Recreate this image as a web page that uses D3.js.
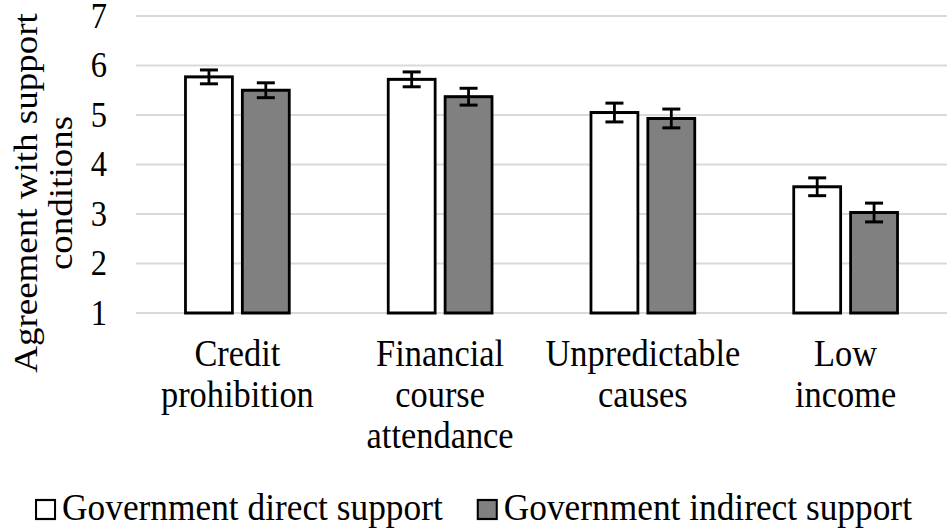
<!DOCTYPE html>
<html lang="en">
<head>
    <meta charset="UTF-8">
    <title>Agreement with support conditions</title>
    <script src="https://d3js.org/d3.v7.min.js"></script>
    <style>
        body {
            margin: 0;
            background: #fff;
        }
    </style>
</head>
<body>
    <div id="chart"></div>

    <script>
        // data
        const categories = [
            ["Credit", "prohibition"],
            ["Financial", "course", "attendance"],
            ["Unpredictable", "causes"],
            ["Low", "income"]
        ];
        const seriesNames = ["Government direct support", "Government indirect support"];
        const directValues = [5.77, 5.72, 5.05, 3.55];
        const directErrors = [0.14, 0.15, 0.19, 0.18];
        const indirectValues = [5.50, 5.37, 4.93, 3.03];
        const indirectErrors = [0.15, 0.17, 0.19, 0.19];
        const yTicks = [1, 2, 3, 4, 5, 6, 7];

        const width = 952;
        const height = 532;
        const fontFamily = "'Liberation Serif', 'DejaVu Serif', serif";
        // the original figure is squeezed sideways, so draw wide and squeeze
        const squeeze = 0.93;
        const innerWidth = width / squeeze;

        const plot = { left: 136 / squeeze, right: 947 / squeeze, top: 16, bottom: 313 };
        const fills = ["#ffffff", "#808080"];

        const svg = d3.select("#chart")
            .append("svg")
            .attr("width", width)
            .attr("height", height);

        const g = svg.append("g")
            .attr("font-family", fontFamily)
            .attr("fill", "#000")
            .attr("transform", `scale(${squeeze},1)`);

        const y = d3.scaleLinear()
            .domain([1, 7])
            .range([plot.bottom, plot.top]);

        const x0 = d3.scaleBand()
            .domain(d3.range(categories.length))
            .range([plot.left, plot.right])
            .padding(0);

        const x1 = d3.scaleBand()
            .domain(d3.range(seriesNames.length))
            .range([0, x0.bandwidth()])
            .paddingInner(0.175)
            .paddingOuter(0.87);

        // gridlines
        g.append("g")
            .selectAll("line")
            .data(yTicks)
            .join("line")
            .attr("x1", plot.left)
            .attr("x2", plot.right)
            .attr("y1", d => y(d))
            .attr("y2", d => y(d))
            .attr("stroke", "#d9d9d9")
            .attr("stroke-width", 2.2);

        // y tick labels
        g.append("g")
            .selectAll("text")
            .data(yTicks)
            .join("text")
            .attr("x", 107 / squeeze)
            .attr("y", d => y(d))
            .attr("dy", "0.34em")
            .attr("text-anchor", "end")
            .attr("font-size", 35)
            .text(d => d);

        // y axis title, two lines
        const title = g.append("text")
            .attr("transform", `translate(${37 / squeeze},193) rotate(-90)`)
            .attr("text-anchor", "middle")
            .attr("font-size", 37);
        title.append("tspan").attr("x", 0).attr("y", 0).text("Agreement with support");
        title.append("tspan").attr("x", 0).attr("y", 35 / squeeze).text("conditions");

        // bars
        const rows = categories.map((c, i) => [
            { cat: i, s: 0, v: directValues[i], e: directErrors[i] },
            { cat: i, s: 1, v: indirectValues[i], e: indirectErrors[i] }
        ]);

        const groups = g.append("g")
            .selectAll("g")
            .data(rows)
            .join("g")
            .attr("transform", (d, i) => `translate(${x0(i)},0)`);

        groups.selectAll("rect")
            .data(d => d)
            .join("rect")
            .attr("x", d => x1(d.s))
            .attr("width", x1.bandwidth())
            .attr("y", d => y(d.v))
            .attr("height", d => y(1) - y(d.v))
            .attr("fill", d => fills[d.s])
            .attr("stroke", "#000")
            .attr("stroke-width", 3);

        // error bars
        const capHalf = 9 / squeeze;
        const err = groups.selectAll("g.err")
            .data(d => d)
            .join("g")
            .attr("class", "err")
            .attr("stroke", "#000")
            .attr("stroke-width", 3);

        err.append("line")
            .attr("x1", d => x1(d.s) + x1.bandwidth() / 2)
            .attr("x2", d => x1(d.s) + x1.bandwidth() / 2)
            .attr("y1", d => y(d.v + d.e))
            .attr("y2", d => y(d.v - d.e));
        err.append("line")
            .attr("x1", d => x1(d.s) + x1.bandwidth() / 2 - capHalf)
            .attr("x2", d => x1(d.s) + x1.bandwidth() / 2 + capHalf)
            .attr("y1", d => y(d.v + d.e))
            .attr("y2", d => y(d.v + d.e));
        err.append("line")
            .attr("x1", d => x1(d.s) + x1.bandwidth() / 2 - capHalf)
            .attr("x2", d => x1(d.s) + x1.bandwidth() / 2 + capHalf)
            .attr("y1", d => y(d.v - d.e))
            .attr("y2", d => y(d.v - d.e));

        // category labels
        const catLabels = g.append("g")
            .selectAll("text")
            .data(categories)
            .join("text")
            .attr("text-anchor", "middle")
            .attr("font-size", 37);

        catLabels.selectAll("tspan")
            .data((d, i) => d.map(line => ({ line, i })))
            .join("tspan")
            .attr("x", d => x0(d.i) + x0.bandwidth() / 2)
            .attr("y", (d, j) => 366 + j * 41)
            .text(d => d.line);

        // legend
        const legend = g.append("g");
        const boxSize = 19;
        const items = legend.selectAll("g")
            .data(seriesNames)
            .join("g");

        items.append("rect")
            .attr("width", boxSize / squeeze)
            .attr("height", boxSize)
            .attr("y", 500)
            .attr("fill", (d, i) => fills[i])
            .attr("stroke", "#000")
            .attr("stroke-width", 2.2);

        items.append("text")
            .attr("x", (boxSize + 7) / squeeze)
            .attr("y", 520)
            .attr("font-size", 38)
            .text(d => d);

        let offset = 0;
        const itemGap = 35 / squeeze;
        const widths = [];
        items.each(function () {
            widths.push(this.getBBox().width);
        });
        const total = d3.sum(widths) + itemGap * (widths.length - 1);
        const start = (474 / squeeze) - total / 2;
        items.attr("transform", (d, i) => {
            const tx = start + offset;
            offset += widths[i] + itemGap;
            return `translate(${tx},0)`;
        });
    </script>
</body>
</html>
